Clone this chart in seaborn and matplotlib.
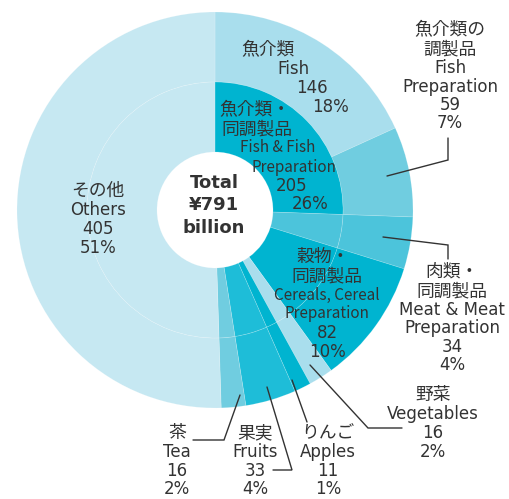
import matplotlib.pyplot as plt
import seaborn as sns

sns.set_style("white")
plt.rcParams['font.family'] = ['DejaVu Sans', 'Noto Sans CJK JP']

# ----------------------------
# Data (¥ billion)
# ----------------------------
outer_names = ["Fish", "Fish Preparation", "Meat", "Cereals", "Vegetables",
               "Apples", "Fruits", "Tea", "Others"]
outer_values = [146, 59, 34, 82, 16, 11, 33, 16, 405]
inner_names = ["Fish & Fish Preparation", "Meat", "Cereals", "Vegetables",
               "Apples", "Fruits", "Tea", "Others"]
inner_values = [205, 34, 82, 16, 11, 33, 16, 405]
total = 791

c_others = "#c6e8f2"
c_light = "#a9deed"
c_mid = "#70cde0"
c_meat = "#4cc4db"
c_dark = "#00b4d0"
c_fruit = "#1ebdd8"

outer_colors = [c_light, c_mid, c_meat, c_dark, c_light, c_dark, c_fruit, c_mid, c_others]
inner_colors = [c_dark, c_meat, c_dark, c_light, c_dark, c_fruit, c_mid, c_others]

TXT = "#333333"
FS = 12
FS_CJK = 12.8
NARROW = ['Noto Sans CJK JP']   # the long lines inside the ring are condensed

# ----------------------------
# Figure
# ----------------------------
W, H = 509, 499
CX, CY, R = 215, 210, 198
fig = plt.figure(figsize=(W / 100, H / 100), dpi=100)
ax = fig.add_axes([(CX - R) / W, (H - CY - R) / H, 2 * R / W, 2 * R / H])

r_mid = 128 / R
r_hole = 58 / R
edge = dict(edgecolor=(1, 1, 1, 0.22), linewidth=0.5)

ax.pie(outer_values, colors=outer_colors, radius=1, startangle=90,
       counterclock=False, wedgeprops=dict(width=1 - r_mid, **edge))
ax.pie(inner_values, colors=inner_colors, radius=r_mid, startangle=90,
       counterclock=False, wedgeprops=dict(width=r_mid - r_hole, **edge))
ax.set_xlim(-1, 1)
ax.set_ylim(-1, 1)
ax.set_aspect("equal")
ax.axis("off")


def p(px, py):
    # pixel position in the picture -> data coords of the pie axes
    return (px - CX) / R, (CY - py) / R


def lines(items, fs=FS, weight="normal"):
    for item in items:
        txt, px, py = item[:3]
        x, y = p(px, py)
        kw = {}
        if len(item) > 3:
            kw["family"] = item[3]
            kw["fontsize"] = 11
        elif not txt.isascii() and weight == "normal":
            kw["fontsize"] = FS_CJK
        else:
            kw["fontsize"] = fs
        ax.text(x, y, txt, ha="center", va="center", color=TXT,
                fontweight=weight, clip_on=False, **kw)


def leader(points):
    xs, ys = zip(*[p(a, b) for a, b in points])
    ax.plot(xs, ys, color="#333333", lw=1.0, clip_on=False,
            solid_joinstyle="miter")


def pct(v):
    return f"{round(v / total * 100)}%"


# center
lines([("Total", 214, 183), (f"¥{total}", 214, 205), ("billion", 214, 228)],
      fs=13, weight="bold")

# Fish (outer)
lines([("魚介類", 268, 50), ("Fish", 293, 69), (str(outer_values[0]), 312, 88),
       ("18%", 330, 107)])

# Fish & Fish Preparation (inner)
lines([("魚介類・", 255, 110), ("同調製品", 257, 129),
       ("Fish & Fish", 278, 148, NARROW), ("Preparation", 294, 167, NARROW),
       (str(inner_values[0]), 292, 186), ("26%", 310, 204)])

# Others
lines([("その他", 98, 191), ("Others", 98, 210), (str(outer_values[8]), 98, 229),
       ("51%", 98, 248)])

# Cereals
lines([("穀物・", 323, 257), ("同調製品", 327, 276),
       ("Cereals, Cereal", 327, 295, NARROW), ("Preparation", 327, 314, NARROW),
       (str(outer_values[3]), 327, 333), ("10%", 327, 352)])

# Fish Preparation
lines([("魚介類の", 450, 30), ("調製品", 450, 49), ("Fish", 450, 68),
       ("Preparation", 450, 87), (str(outer_values[1]), 450, 105),
       (pct(outer_values[1]), 450, 123)])
leader([(448, 138), (448, 160), (387, 176)])

# Meat
lines([("肉類・", 452, 272), ("同調製品", 452, 291), ("Meat & Meat", 452, 310),
       ("Preparation", 452, 328), (str(outer_values[2]), 452, 347),
       (pct(outer_values[2]), 452, 365)])
leader([(383, 237), (448, 245), (448, 259)])

# Vegetables
lines([("野菜", 433, 395), ("Vegetables", 433, 414), (str(outer_values[4]), 433, 433),
       (pct(outer_values[4]), 433, 452)])
leader([(310, 365), (368, 428), (402, 428)])

# Apples
lines([("りんご", 328, 433), ("Apples", 328, 452), (str(outer_values[5]), 328, 471),
       ("1%", 328, 489)])
leader([(292, 380), (307, 422)])

# Fruits
lines([("果実", 255, 433), ("Fruits", 255, 452), (str(outer_values[6]), 255, 471),
       (pct(outer_values[6]), 255, 489)])
leader([(267, 387), (292, 470), (273, 470)])

# Tea
lines([("茶", 177, 433), ("Tea", 177, 452), (str(outer_values[7]), 177, 471),
       (pct(outer_values[7]), 177, 489)])
leader([(240, 395), (224, 440), (193, 440)])

fig.savefig("out.png", dpi=100, facecolor="white")
plt.close()
